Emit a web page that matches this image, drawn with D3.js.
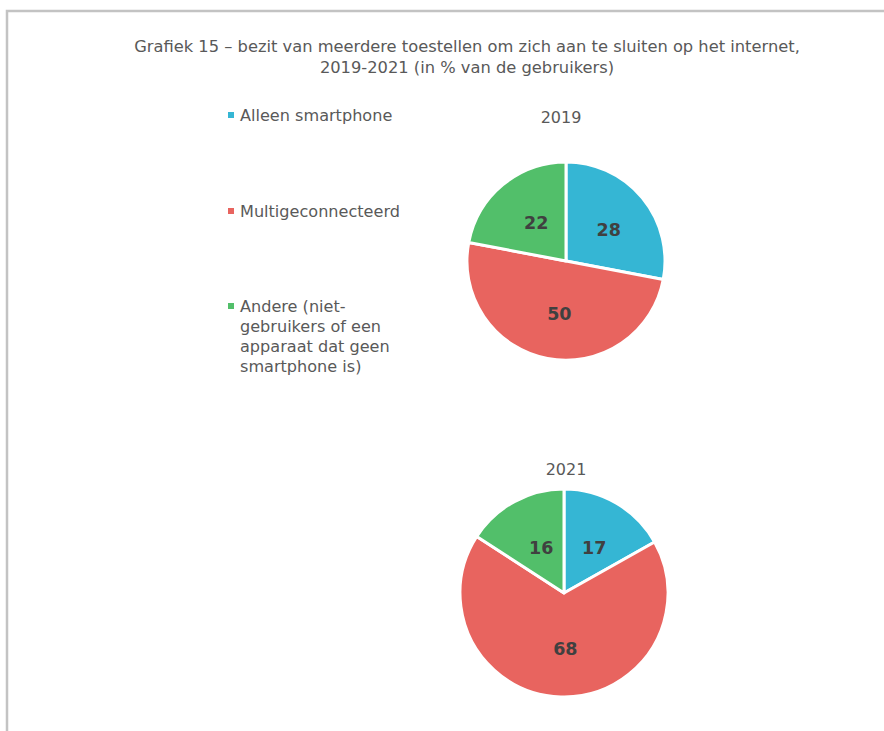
<!DOCTYPE html>
<html><head><meta charset="utf-8">
<script src="https://cdn.jsdelivr.net/npm/d3@7"></script>
<style>body{margin:0;background:#fff;}svg{display:block;}</style>
</head><body>
<svg id="c" width="884" height="731"></svg>
<script>
const titleLines = ["Grafiek 15 – bezit van meerdere toestellen om zich aan te sluiten op het internet,", "2019-2021 (in % van de gebruikers)"];
const categories = ["Alleen smartphone", "Multigeconnecteerd", "Andere (niet-gebruikers of een apparaat dat geen smartphone is)"];
const legendLines = [["Alleen smartphone"], ["Multigeconnecteerd"], ["Andere (niet-", "gebruikers of een", "apparaat dat geen", "smartphone is)"]];
const colors = ["#35B6D4", "#E8645F", "#52BF6A"];
const years = ["2019", "2021"];
const values2019 = [28, 50, 22];
const values2021 = [17, 68, 16];
const series = [values2019, values2021];

const svg = d3.select("#c");
const font = "'DejaVu Sans', Verdana, sans-serif";

// frame
svg.append("path").attr("d", "M7,731 V11 H884").attr("fill", "none").attr("stroke", "#c3c3c3").attr("stroke-width", 2.5);

// title
svg.append("g").selectAll("text").data(titleLines).join("text")
  .attr("x", 467).attr("y", (d, i) => 52 + i * 21)
  .attr("text-anchor", "middle").attr("font-family", font).attr("font-size", 16.3)
  .attr("fill", "#595959").text(d => d);

// legend
const lg = svg.append("g");
const legendY = [115, 211, 306];
legendLines.forEach((lines, i) => {
  lg.append("rect").attr("x", 228).attr("y", legendY[i] - 3).attr("width", 6).attr("height", 6).attr("fill", colors[i]);
  lg.append("g").selectAll("text").data(lines).join("text")
    .attr("x", 240).attr("y", (d, j) => legendY[i] + 6 + j * 20)
    .attr("font-family", font).attr("font-size", 16.1).attr("fill", "#595959").text(d => d);
});

const pies = [{cx: 566, cy: 261, r: 99, tx: 561, ty: 123}, {cx: 564, cy: 593, r: 104, tx: 566, ty: 475}];
const pie = d3.pie().sort(null).value(d => d);
pies.forEach((p, k) => {
  const g = svg.append("g").attr("transform", `translate(${p.cx},${p.cy})`);
  const arc = d3.arc().innerRadius(0).outerRadius(p.r);
  const labelArc = d3.arc().innerRadius(p.r * 0.52).outerRadius(p.r * 0.52);
  const arcs = pie(series[k]);
  g.selectAll("path").data(arcs).join("path")
    .attr("d", arc).attr("fill", (d, i) => colors[i])
    .attr("stroke", "#fff").attr("stroke-width", 3).attr("stroke-linejoin", "round");
  g.selectAll("text.v").data(arcs).join("text").attr("class", "v")
    .attr("transform", d => { const c = labelArc.centroid(d); return `translate(${c[0] + 3},${c[1] + 1.5})`; })
    .attr("text-anchor", "middle").attr("dy", "0.38em")
    .attr("font-family", font).attr("font-size", 17.5).attr("font-weight", "bold")
    .attr("fill", "#404040").text(d => d.data);
  svg.append("text").attr("x", p.tx).attr("y", p.ty)
    .attr("text-anchor", "middle").attr("font-family", font).attr("font-size", 16)
    .attr("fill", "#595959").text(years[k]);
});
</script>
</body></html>
